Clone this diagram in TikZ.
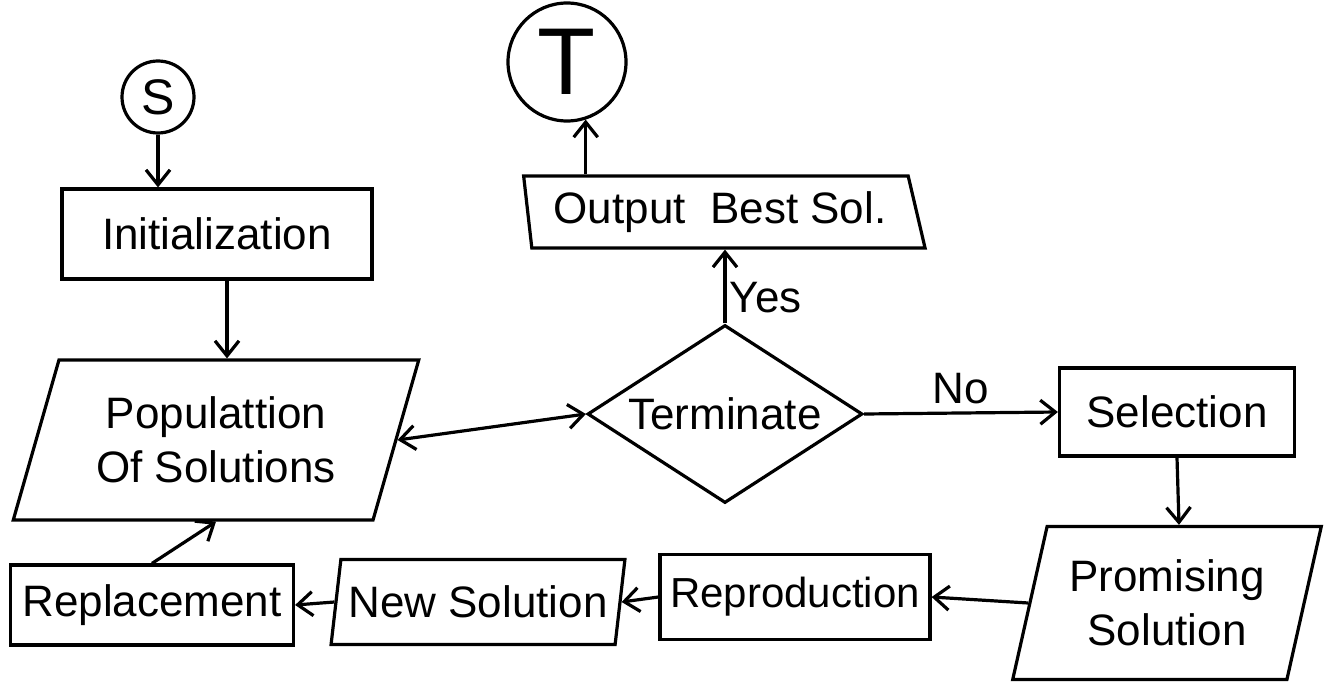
\documentclass[tikz,border=0pt]{standalone}
\usepackage{fontspec}
\setmainfont{Liberation Sans}
\usetikzlibrary{arrows.meta,shapes.geometric}

\begin{document}
\begin{tikzpicture}[x=1pt,y=-1pt,line width=3.2pt,>={Straight Barb[length=15pt,width=24pt]},
    hand/.style={font=\fontsize{44}{54}\selectfont},
    stepbox/.style={hand,draw,inner sep=0pt,minimum width=#1},
    slantbox/.style={hand,draw,trapezium,trapezium stretches=true,inner sep=0pt,minimum width=#1,align=center}]
    \useasboundingbox (0,0) rectangle (1333,698);
    \node[draw,circle,minimum size=72pt,inner sep=0pt,font=\fontsize{50}{50}\selectfont] (start) at (158,97) {S};
    \node[draw,circle,minimum size=118pt,inner sep=0pt,font=\fontsize{95}{95}\selectfont] (stop) at (567,62) {T};
    \node[stepbox=310pt,minimum height=90pt] (init) at (217,234) {Initialization};
    \node[slantbox=403pt,minimum height=72pt,trapezium left angle=100,trapezium right angle=70] (best) at (720,212) {Output~~Best Sol.};
    \node[slantbox=407pt,minimum height=160pt,trapezium left angle=68,trapezium right angle=112] (pop) at (216,440) {Populattion\\Of Solutions};
    \node[hand,draw,diamond,aspect=2,inner sep=0pt,minimum width=275pt,minimum height=178pt] (term) at (725,414) {Terminate};
    \node[stepbox=235pt,minimum height=88pt] (sel) at (1177,412) {Selection};
    \node[slantbox=309pt,minimum height=153pt,trapezium left angle=72,trapezium right angle=108] (prom) at (1167,603) {Promising\\Solution};
    \node[stepbox=270pt,minimum height=85pt,font=\fontsize{42}{50}\selectfont] (repro) at (795,597) {Reproduction};
    \node[slantbox=295pt,minimum height=85pt,trapezium left angle=74,trapezium right angle=106] (newsol) at (478,602) {New Solution};
    \node[stepbox=283pt,minimum height=80pt] (repl) at (152,605) {Replacement};
    \draw[->] (start) -- (start |- init.north);
    \draw[->] ([xshift=10pt]init.south) -- ([xshift=10pt]init.south |- pop.north);
    \draw[<->] (pop.east) -- (term.west);
    \draw[->] (term.north) -- node[hand,right,pos=0.35]{Yes} (term.north |- best.south);
    \draw[->] (best.north -| stop.-72) -- (stop.-72);
    \draw[->] (term.east) -- node[hand,above=4pt]{No} (sel.west);
    \draw[->] (sel.south) -- ([xshift=12pt]prom.north);
    \draw[->] (prom.west) -- (repro.east);
    \draw[->] (repro.west) -- (newsol.east);
    \draw[->] (newsol.west) -- (repl.east);
    \draw[->] (repl.north) -- (pop.south);
  \end{tikzpicture}
\end{document}
